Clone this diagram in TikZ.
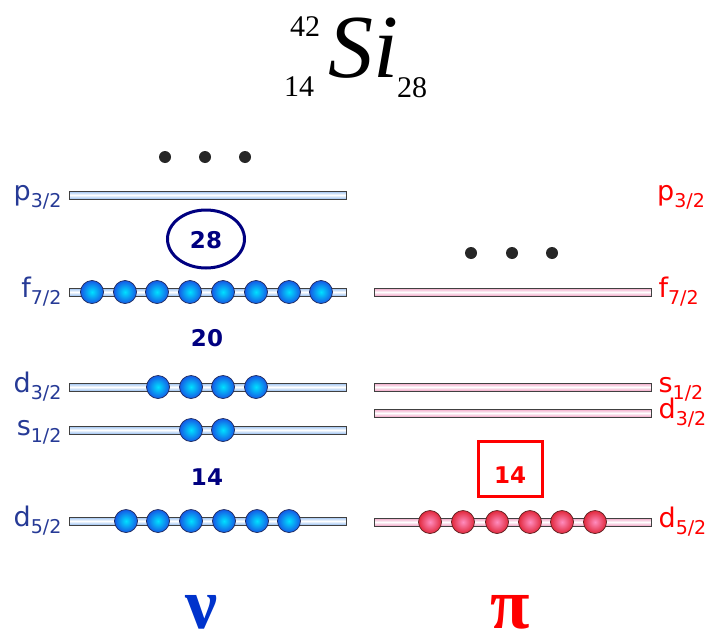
\documentclass[tikz,border=0pt]{standalone}
\usepackage{fontspec}
\setmainfont{Liberation Serif}
\newfontfamily\labfont{DejaVu Sans}
\usetikzlibrary{shapes.geometric}
\definecolor{navy}{RGB}{0,0,128}
\definecolor{lblue}{RGB}{38,58,150}
\definecolor{nublue}{RGB}{0,51,204}
\definecolor{barblue}{RGB}{150,190,240}
\definecolor{barpink}{RGB}{240,160,195}
\definecolor{ballin}{RGB}{0,225,255}
\definecolor{ballout}{RGB}{20,90,230}
\definecolor{rballin}{RGB}{255,140,190}
\definecolor{rballout}{RGB}{225,40,60}
\newcommand{\orb}[2]{#1\raisebox{-7pt}{\fontsize{19}{19}\selectfont #2}}
\begin{document}
\begin{tikzpicture}[x=1pt,y=-1pt,
  barbase/.style={draw=black!75, line width=0.8pt, minimum width=277pt, minimum height=8pt, inner sep=0pt},
  barL/.style={barbase, top color=barblue, bottom color=barblue, middle color=white},
  barR/.style={barbase, top color=barpink, bottom color=barpink, middle color=white},
  ballB/.style={circle, minimum size=23pt, inner sep=0pt, draw={rgb,255:red,30;green,40;blue,90}, line width=0.7pt, inner color=ballin, outer color=ballout},
  ballR/.style={circle, minimum size=23pt, inner sep=0pt, draw={rgb,255:red,90;green,30;blue,30}, line width=0.7pt, inner color=rballin, outer color=rballout},
  labL/.style={font=\labfont\fontsize{27}{27}\selectfont, text=lblue, inner sep=0pt, anchor=base east},
  labR/.style={font=\labfont\fontsize{27}{27}\selectfont, text=red, inner sep=0pt, anchor=base west},
  magic/.style={font=\labfont\bfseries\fontsize{23}{23}\selectfont, inner sep=0pt},
  dot/.style={circle, fill=black!85, minimum size=12pt, inner sep=0pt},
  title/.style={inner sep=0pt},
  greek/.style={font=\bfseries\fontsize{72}{72}\selectfont, inner sep=0pt, anchor=base}
]
\useasboundingbox (0,0) rectangle (711,634);

% title
\node[title, font=\fontsize{90}{90}\selectfont\itshape, anchor=base west] (si) at (328,77) {Si};
\node[title, font=\fontsize{30}{30}\selectfont] (a42) at (305,27) {42};
\node[title, font=\fontsize{30}{30}\selectfont] (z14) at (299,87) {14};
\node[title, font=\fontsize{30}{30}\selectfont] (n28) at (412,88) {28};

% dots
\node[dot] (dl1) at (165,157) {};
\node[dot] (dl2) at (205,157) {};
\node[dot] (dl3) at (245,157) {};
\node[dot] (dr1) at (471,253) {};
\node[dot] (dr2) at (512,253) {};
\node[dot] (dr3) at (552,253) {};

% neutron bars
\node[barL] (pL) at (207.5,195) {};
\node[barL] (fL) at (207.5,292) {};
\node[barL] (d3L) at (207.5,387) {};
\node[barL] (sL) at (207.5,430) {};
\node[barL] (d5L) at (207.5,521) {};

% proton bars
\node[barR] (fR) at (512.5,292) {};
\node[barR] (sR) at (512.5,387) {};
\node[barR] (d3R) at (512.5,413) {};
\node[barR] (d5R) at (512.5,522) {};

% neutron labels
\node[labL] (lpL) at ([xshift=-7pt,yshift=-5pt]pL.west) {\orb{p}{3/2}};
\node[labL] (lfL) at ([xshift=-7pt,yshift=-5pt]fL.west) {\orb{f}{7/2}};
\node[labL] (ld3L) at ([xshift=-7pt,yshift=-5pt]d3L.west) {\orb{d}{3/2}};
\node[labL] (lsL) at ([xshift=-7pt,yshift=-5pt]sL.west) {\orb{s}{1/2}};
\node[labL] (ld5L) at ([xshift=-7pt,yshift=-5pt]d5L.west) {\orb{d}{5/2}};

% proton labels
\node[labR] (lpR) at (657,200) {\orb{p}{3/2}};
\node[labR] (lfR) at ([xshift=7pt,yshift=-5pt]fR.east) {\orb{f}{7/2}};
\node[labR] (lsR) at ([xshift=7pt,yshift=-5pt]sR.east) {\orb{s}{1/2}};
\node[labR] (ld3R) at ([xshift=7pt,yshift=-5pt]d3R.east) {\orb{d}{3/2}};
\node[labR] (ld5R) at ([xshift=7pt,yshift=-5pt]d5R.east) {\orb{d}{5/2}};

% neutron balls
\foreach \x [count=\i] in {92,125,157,190,223,256,289,321}
  \node[ballB] (bf\i) at (\x,292) {};
\foreach \x [count=\i] in {158,191,223,256}
  \node[ballB] (bd3\i) at (\x,387) {};
\foreach \x [count=\i] in {191,223}
  \node[ballB] (bs\i) at (\x,430) {};
\foreach \x [count=\i] in {126,158,191,224,257,289}
  \node[ballB] (bd5\i) at (\x,521) {};

% proton balls
\foreach \x [count=\i] in {430,463,497,530,562,595}
  \node[ballR] (rd5\i) at (\x,522) {};

% magic numbers
\node[draw=navy, line width=3pt, ellipse, minimum width=77pt, minimum height=58pt, inner sep=0pt] (e28) at (206,239) {};
\node[magic, text=navy] (m28) at (206,240) {28};
\node[magic, text=navy] (m20) at (207,338) {20};
\node[magic, text=navy] (m14L) at (207,477) {14};
\node[draw=red, line width=3pt, minimum width=64pt, minimum height=55pt, inner sep=0pt] (box14) at (510,468.5) {};
\node[magic, text=red] (m14R) at (510,475) {14};

% nu and pi
\node[greek, text=nublue] (nu) at (202,628) {ν};
\node[greek, text=red] (pi) at (510,628) {π};
\end{tikzpicture}
\end{document}
